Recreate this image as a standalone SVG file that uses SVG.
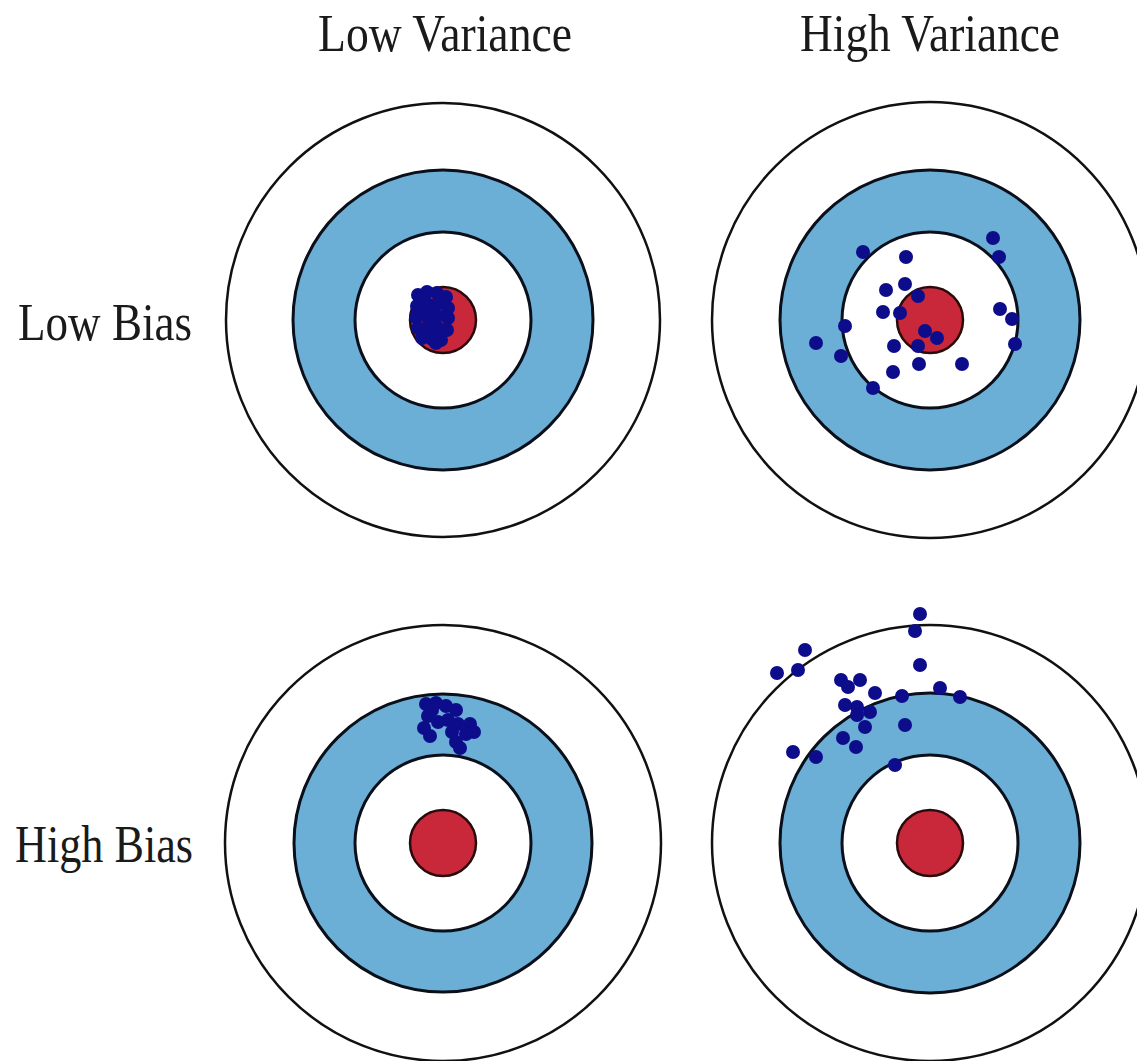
<svg xmlns="http://www.w3.org/2000/svg" width="1137" height="1061" viewBox="0 0 1137 1061">
<style>
.lbl{font-family:"Liberation Serif","Times New Roman",serif;font-size:52px;fill:#1a1a1a}
.outer{fill:#ffffff;stroke:#111;stroke-width:2.5}
.ring{fill:#6baed6;stroke:#0a0f1a;stroke-width:3}
.inner{fill:#ffffff;stroke:#0a0f1a;stroke-width:3}
.bull{fill:#c8283a;stroke:#2a0a0a;stroke-width:2.5}
.dot{fill:#0d0d8c}
</style>
<rect width="1137" height="1061" fill="#ffffff"/>
<g id="labels">
<text class="lbl" x="318" y="51" textLength="254" lengthAdjust="spacingAndGlyphs">Low Variance</text>
<text class="lbl" x="800" y="51" textLength="260" lengthAdjust="spacingAndGlyphs">High Variance</text>
<text class="lbl" x="18" y="340" textLength="174" lengthAdjust="spacingAndGlyphs">Low Bias</text>
<text class="lbl" x="15" y="862" textLength="178" lengthAdjust="spacingAndGlyphs">High Bias</text>
</g>
<g id="target-low-bias-low-variance">
<circle class="outer" cx="443" cy="320" r="217"/>
<circle class="ring" cx="443" cy="320" r="150"/>
<circle class="inner" cx="443" cy="320" r="88"/>
<circle class="bull" cx="443" cy="320" r="33"/>
<g class="dot">
<circle cx="418" cy="295" r="7"/><circle cx="427" cy="292" r="7"/><circle cx="437" cy="293" r="7"/><circle cx="446" cy="297" r="7"/>
<circle cx="417" cy="306" r="7"/><circle cx="427" cy="304" r="7"/><circle cx="437" cy="304" r="7"/><circle cx="448" cy="308" r="7"/>
<circle cx="416" cy="317" r="7"/><circle cx="426" cy="316" r="7"/><circle cx="437" cy="316" r="7"/><circle cx="448" cy="318" r="7"/>
<circle cx="418" cy="328" r="7"/><circle cx="428" cy="327" r="7"/><circle cx="438" cy="328" r="7"/><circle cx="447" cy="330" r="7"/>
<circle cx="422" cy="338" r="7"/><circle cx="432" cy="339" r="7"/><circle cx="441" cy="340" r="7"/><circle cx="436" cy="343" r="7"/>
<circle cx="432" cy="310" r="7"/><circle cx="432" cy="322" r="7"/><circle cx="422" cy="299" r="7"/>
</g>
</g>
<g id="target-low-bias-high-variance">
<circle class="outer" cx="930" cy="320" r="218"/>
<circle class="ring" cx="930" cy="320" r="150"/>
<circle class="inner" cx="930" cy="320" r="88"/>
<circle class="bull" cx="930" cy="320" r="33"/>
<g class="dot">
<circle cx="863" cy="252" r="7"/><circle cx="906" cy="257" r="7"/><circle cx="993" cy="238" r="7"/><circle cx="999" cy="257" r="7"/>
<circle cx="886" cy="290" r="7"/><circle cx="905" cy="284" r="7"/><circle cx="918" cy="296" r="7"/><circle cx="883" cy="312" r="7"/>
<circle cx="900" cy="313" r="7"/><circle cx="845" cy="326" r="7"/><circle cx="1000" cy="309" r="7"/><circle cx="1012" cy="319" r="7"/>
<circle cx="1015" cy="344" r="7"/><circle cx="816" cy="343" r="7"/><circle cx="841" cy="356" r="7"/><circle cx="894" cy="346" r="7"/>
<circle cx="925" cy="331" r="7"/><circle cx="937" cy="338" r="7"/><circle cx="918" cy="346" r="7"/><circle cx="919" cy="364" r="7"/>
<circle cx="962" cy="364" r="7"/><circle cx="893" cy="372" r="7"/><circle cx="873" cy="388" r="7"/>
</g>
</g>
<g id="target-high-bias-low-variance">
<circle class="outer" cx="443" cy="843" r="218"/>
<circle class="ring" cx="443" cy="843" r="149"/>
<circle class="inner" cx="443" cy="843" r="88"/>
<circle class="bull" cx="443" cy="843" r="33"/>
<g class="dot">
<circle cx="426" cy="704" r="7"/><circle cx="436" cy="703" r="7"/><circle cx="428" cy="716" r="7"/><circle cx="424" cy="728" r="7"/>
<circle cx="430" cy="736" r="7"/><circle cx="446" cy="706" r="7"/><circle cx="456" cy="710" r="7"/><circle cx="448" cy="720" r="7"/>
<circle cx="458" cy="724" r="7"/><circle cx="452" cy="732" r="7"/><circle cx="470" cy="724" r="7"/><circle cx="474" cy="732" r="7"/>
<circle cx="466" cy="734" r="7"/><circle cx="456" cy="742" r="7"/><circle cx="460" cy="748" r="7"/><circle cx="438" cy="722" r="7"/>
<circle cx="432" cy="710" r="7"/>
</g>
</g>
<g id="target-high-bias-high-variance">
<circle class="outer" cx="930" cy="843" r="218"/>
<circle class="ring" cx="930" cy="843" r="150"/>
<circle class="inner" cx="930" cy="843" r="88"/>
<circle class="bull" cx="930" cy="843" r="33"/>
<g class="dot">
<circle cx="920" cy="614" r="7"/><circle cx="915" cy="631" r="7"/><circle cx="805" cy="650" r="7"/><circle cx="777" cy="673" r="7"/>
<circle cx="798" cy="670" r="7"/><circle cx="920" cy="665" r="7"/><circle cx="841" cy="680" r="7"/><circle cx="860" cy="680" r="7"/>
<circle cx="848" cy="687" r="7"/><circle cx="875" cy="693" r="7"/><circle cx="902" cy="696" r="7"/><circle cx="940" cy="688" r="7"/>
<circle cx="960" cy="697" r="7"/><circle cx="845" cy="705" r="7"/><circle cx="857" cy="707" r="7"/><circle cx="870" cy="712" r="7"/>
<circle cx="857" cy="715" r="7"/><circle cx="865" cy="727" r="7"/><circle cx="905" cy="725" r="7"/><circle cx="843" cy="738" r="7"/>
<circle cx="856" cy="747" r="7"/><circle cx="793" cy="752" r="7"/><circle cx="816" cy="757" r="7"/><circle cx="895" cy="765" r="7"/>
</g>
</g>
</svg>
